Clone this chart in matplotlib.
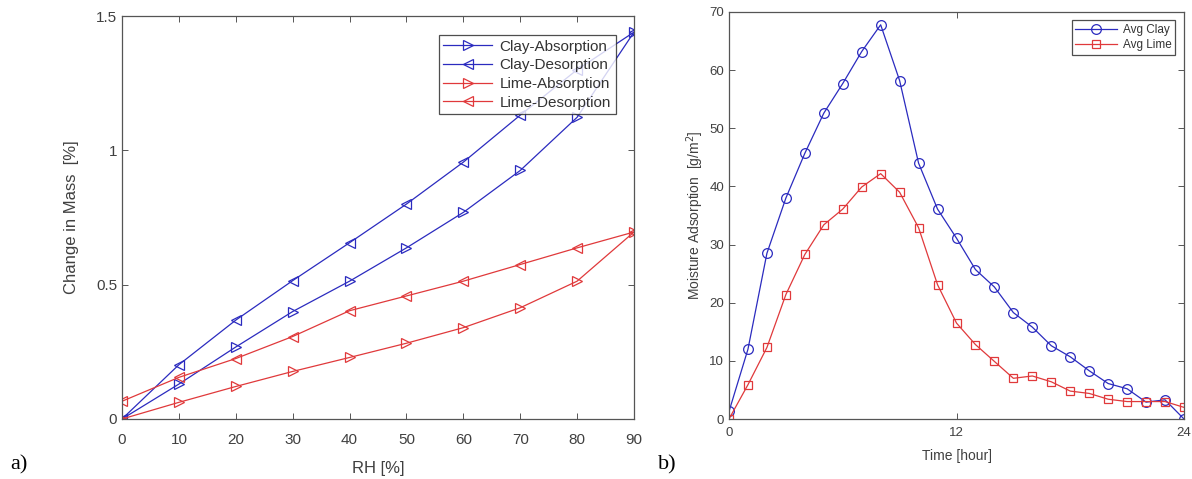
import matplotlib
matplotlib.use("Agg")
import matplotlib.pyplot as plt

# ---- data panel a ----
rh = [0, 10, 20, 30, 40, 50, 60, 70, 80, 90]
clay_abs = [0.0, 0.13, 0.268, 0.40, 0.513, 0.637, 0.769, 0.925, 1.123, 1.44]
clay_des = [0.0, 0.202, 0.368, 0.515, 0.656, 0.80, 0.956, 1.131, 1.30, 1.44]
lime_abs = [0.0, 0.062, 0.121, 0.177, 0.229, 0.282, 0.34, 0.414, 0.513, 0.696]
lime_des = [0.066, 0.155, 0.225, 0.307, 0.403, 0.458, 0.513, 0.575, 0.637, 0.696]
a_xticks = [0, 10, 20, 30, 40, 50, 60, 70, 80, 90]
a_yticks = [0, 0.5, 1, 1.5]
a_yticklabels = ["0", "0.5", "1", "1.5"]

# ---- data panel b ----
hours = list(range(25))
avg_clay = [1.3, 12.0, 28.5, 38.0, 45.7, 52.6, 57.7, 63.2, 67.8, 58.2, 44.0, 36.1,
            31.1, 25.7, 22.7, 18.3, 15.8, 12.6, 10.7, 8.3, 6.1, 5.2, 2.9, 3.3, 0.0]
avg_lime = [0.0, 5.9, 12.3, 21.4, 28.3, 33.4, 36.1, 39.9, 42.2, 39.0, 32.9, 23.1,
            16.5, 12.8, 9.9, 7.0, 7.4, 6.4, 4.8, 4.4, 3.4, 3.0, 3.0, 3.0, 2.0]
b_xticks = [0, 12, 24]
b_yticks = [0, 10, 20, 30, 40, 50, 60, 70]

BLUE = "#2b2bbf"
RED = "#e0393b"
TICKC = "#404040"

plt.rcParams['font.family'] = ['Liberation Sans', 'DejaVu Sans']

W, H = 1192, 479
fig = plt.figure(figsize=(W / 100, H / 100), dpi=100)


def style(ax, fs):
    for s in ax.spines.values():
        s.set_color("#555555")
        s.set_linewidth(0.9)
    ax.tick_params(direction="in", top=True, right=True, length=4,
                   width=0.7, colors="#555555", labelcolor=TICKC, labelsize=fs)


# ---- panel a ----
axa = fig.add_axes([122 / W, (H - 419) / H, (634 - 122) / W, (419 - 16) / H])
kw = dict(lw=0.9, markersize=7.5, markerfacecolor="none", markeredgewidth=0.9)
axa.plot(rh, clay_abs, marker=">", color=BLUE, label="Clay-Absorption", **kw)
axa.plot(rh, clay_des, marker="<", color=BLUE, label="Clay-Desorption", **kw)
axa.plot(rh, lime_abs, marker=">", color=RED, label="Lime-Absorption", **kw)
axa.plot(rh, lime_des, marker="<", color=RED, label="Lime-Desorption", **kw)
axa.set_xlim(0, 90)
axa.set_ylim(0, 1.5)
axa.set_xticks(a_xticks)
axa.set_yticks(a_yticks)
axa.set_yticklabels(a_yticklabels)
style(axa, 11)
axa.tick_params(axis="x", pad=10)
axa.set_xlabel("RH [%]", fontsize=12, color=TICKC, labelpad=10)
axa.set_ylabel("Change in Mass  [%]", fontsize=12, color=TICKC, labelpad=12)
leg = axa.legend(loc="upper right", bbox_to_anchor=(0.97, 0.96), fontsize=11,
                 frameon=True, fancybox=False, edgecolor="#222222",
                 handlelength=3.2, borderpad=0.3, labelspacing=0.3,
                 handletextpad=0.5, borderaxespad=0.2)
leg.get_frame().set_linewidth(0.9)
for t in leg.get_texts():
    t.set_color("#333333")

# ---- panel b ----
axb = fig.add_axes([729 / W, (H - 419) / H, (1184 - 729) / W, (419 - 12) / H])
kw2 = dict(lw=0.9, markersize=7, markerfacecolor="none", markeredgewidth=0.9)
axb.plot(hours, avg_clay, marker="o", color=BLUE, label="Avg Clay", **kw2)
axb.plot(hours, avg_lime, marker="s", color=RED, label="Avg Lime",
         lw=0.9, markersize=5.5, markerfacecolor="none", markeredgewidth=0.9)
axb.set_xlim(0, 24)
axb.set_ylim(0, 70)
axb.set_xticks(b_xticks)
axb.set_yticks(b_yticks)
style(axb, 9.5)
axb.tick_params(axis="x", pad=6)
axb.set_xlabel("Time [hour]", fontsize=10, color=TICKC, labelpad=7)
axb.set_ylabel("Moisture Adsorption  [g/m$^2$]", fontsize=10, color=TICKC, labelpad=2)
leg2 = axb.legend(loc="upper right", bbox_to_anchor=(0.985, 0.985), fontsize=8.5,
                  frameon=True, fancybox=False, edgecolor="#222222",
                  handlelength=3.5, borderpad=0.3, labelspacing=0.25,
                  handletextpad=0.5, borderaxespad=0.2)
leg2.get_frame().set_linewidth(0.9)
for t in leg2.get_texts():
    t.set_color("#333333")

fig.text(10 / W, (H - 465) / H, "a)", fontsize=16, family="Liberation Serif",
         va="center", ha="left")
fig.text(658 / W, (H - 465) / H, "b)", fontsize=16, family="Liberation Serif",
         va="center", ha="left")

fig.savefig("out.png", dpi=100, facecolor="white")
